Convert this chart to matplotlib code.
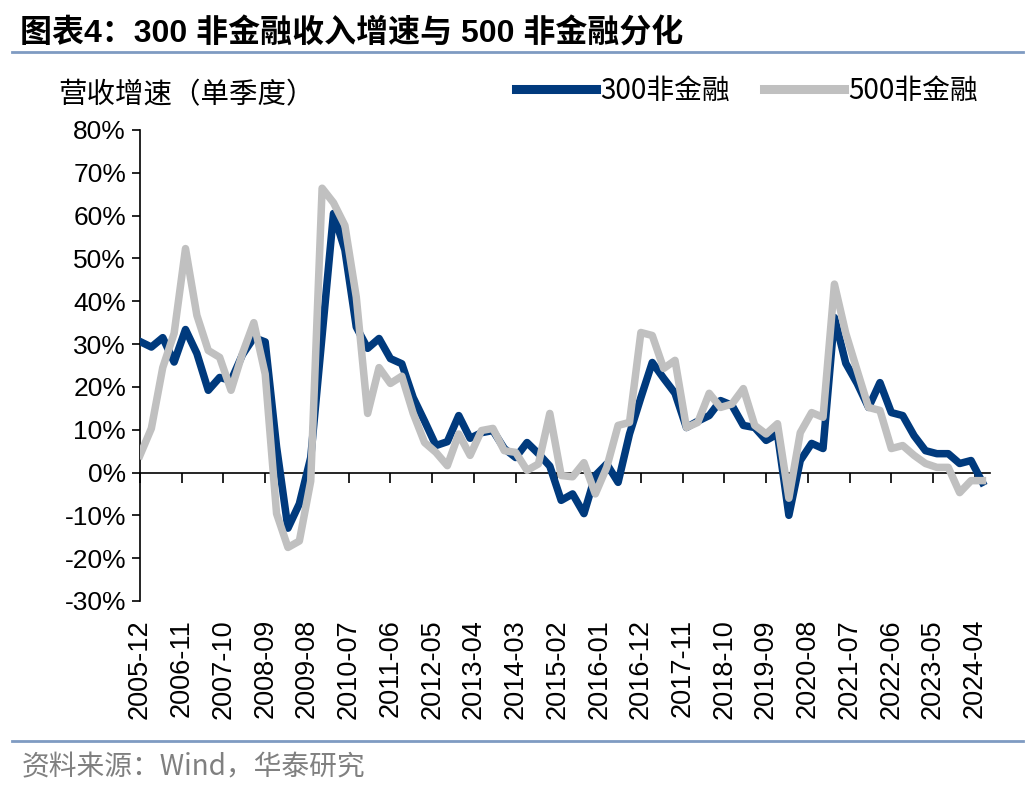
import matplotlib
matplotlib.use("Agg")
import matplotlib.pyplot as plt
from matplotlib.lines import Line2D
import numpy as np

# 单季度营收增速 (%), 2005-12 起按季度
hs300_nonfin = [
    30.6, 29.3, 31.5, 25.8, 33.4, 27.8, 19.2, 22.2, 21.5, 27.5,
    31.5, 30.5, 6.0, -13.0, -7.3, 3.5, 32.0, 60.5, 52.0, 34.0,
    29.0, 31.3, 26.6, 25.4, 17.5, 12.0, 6.3, 7.2, 13.3, 8.0,
    9.3, 9.8, 5.6, 3.5, 7.0, 4.4, 1.5, -6.5, -5.0, -9.6,
    -0.7, 2.0, -2.3, 9.0, 17.5, 25.7, 22.0, 18.5, 10.5, 12.0,
    13.3, 16.8, 15.7, 11.0, 10.5, 7.5, 9.0, -10.0, 2.8, 6.8,
    5.6, 36.2, 25.5, 20.8, 15.2, 21.0, 14.0, 13.3, 8.6, 5.1,
    4.4, 4.4, 2.1, 2.8, -2.3,
]
csi500_nonfin = [
    4.0, 10.3, 24.5, 32.5, 52.3, 36.7, 28.5, 26.9, 19.2, 27.8,
    35.0, 23.0, -9.6, -17.5, -16.0, -2.0, 66.4, 63.0, 57.7, 41.0,
    13.8, 24.5, 20.8, 22.5, 13.8, 7.0, 4.7, 1.6, 9.0, 4.0,
    9.8, 10.3, 5.1, 4.7, 0.5, 2.0, 13.8, -0.7, -1.0, 2.3,
    -5.0, 1.2, 11.0, 11.7, 32.7, 32.0, 24.3, 26.2, 10.5, 11.7,
    18.5, 15.2, 16.0, 19.6, 11.0, 9.0, 11.4, -6.0, 9.3, 14.0,
    12.9, 44.0, 32.5, 23.8, 15.2, 14.5, 5.6, 6.3, 4.0, 2.1,
    1.2, 1.2, -4.7, -1.9, -1.9,
]
tick_labels = [
    "2005-12", "2006-11", "2007-10", "2008-09", "2009-08", "2010-07",
    "2011-06", "2012-05", "2013-04", "2014-03", "2015-02", "2016-01",
    "2016-12", "2017-11", "2018-10", "2019-09", "2020-08", "2021-07",
    "2022-06", "2023-05", "2024-04",
]
series_names = ["300非金融", "500非金融"]

CJK = ["Noto Sans CJK SC", "DejaVu Sans"]
LATIN_CJK = ["Liberation Sans", "Noto Sans CJK SC"]
plt.rcParams["font.family"] = LATIN_CJK

BLUE = "#003a7d"
GRAY = "#c0c0c0"
RULE = "#7f9bc2"

# x 轴以月份计 (从 2005-12 起)
months = np.arange(len(hs300_nonfin)) * 3
tick_pos = np.arange(len(tick_labels)) * 11

fig = plt.figure(figsize=(10.36, 7.92), dpi=100)
ax = fig.add_axes([0.1351, 0.2412, 0.8205, 0.5947])

ax.plot(months, hs300_nonfin, color=BLUE, lw=5.4, solid_joinstyle="round", zorder=3)
ax.plot(months, csi500_nonfin, color=GRAY, lw=5.4, solid_joinstyle="round", zorder=4)

ax.set_xlim(0, 224)
ax.set_ylim(-30, 80)
ax.set_yticks(np.arange(-30, 81, 10))
ax.set_yticklabels([f"{v}%" for v in range(-30, 81, 10)], fontsize=19)
ax.tick_params(axis="y", direction="out", length=6, width=1.2, pad=4)

# 日期标签放在底部, 横轴线在 0 处
ax.set_xticks(tick_pos)
ax.set_xticklabels(tick_labels, rotation=90, fontsize=19.5)
ax.tick_params(axis="x", length=0, pad=13)
ax.spines["bottom"].set_visible(False)
ax.spines["top"].set_visible(False)
ax.spines["right"].set_visible(False)
ax.spines["left"].set_linewidth(1.2)

zero_ax = ax.secondary_xaxis(30 / 110)
zero_ax.set_xticks(tick_pos)
zero_ax.set_xticklabels([])
zero_ax.tick_params(direction="out", length=7, width=1.2)
zero_ax.spines["bottom"].set_linewidth(1.2)

# 标题与分隔线
fig.text(0.019, 0.957, "图表4：300 非金融收入增速与 500 非金融分化", fontsize=23,
         fontweight="bold", family=LATIN_CJK, va="center", ha="left")
fig.add_artist(Line2D([0.012, 0.987], [0.934, 0.934], color=RULE, lw=2))
fig.add_artist(Line2D([0.012, 0.987], [0.064, 0.064], color=RULE, lw=2))
fig.text(0.021, 0.031, "资料来源：Wind，华泰研究", fontsize=20, color="#808080",
         family=CJK, va="center", ha="left")

fig.text(0.056, 0.880, "营收增速（单季度）", fontsize=20.5, family=CJK,
         va="center", ha="left")

handles = [Line2D([], [], color=BLUE, lw=6.5), Line2D([], [], color=GRAY, lw=6.5)]
fig.legend(handles, series_names, loc="center right", bbox_to_anchor=(0.968, 0.885),
           ncol=2, frameon=False, handlelength=2.9, handletextpad=0.15,
           columnspacing=1.2, prop={"family": CJK, "size": 20})

fig.savefig("out.png", dpi=100)
